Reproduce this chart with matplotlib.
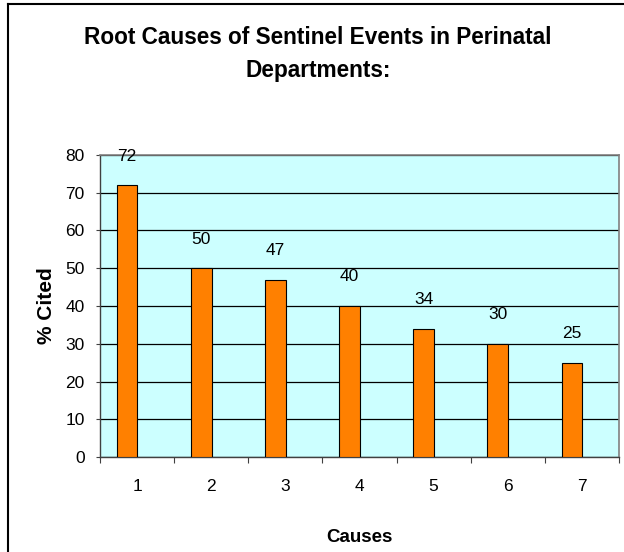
import matplotlib
matplotlib.use("Agg")
import matplotlib.pyplot as plt
from matplotlib.lines import Line2D
import numpy as np

plt.rcParams['font.family'] = ['Liberation Sans', 'DejaVu Sans']

causes = ['1', '2', '3', '4', '5', '6', '7']
values = [72, 50, 47, 40, 34, 30, 25]
title = "Root Causes of Sentinel Events in Perinatal\nDepartments:"
xlabel = "Causes"
ylabel = "% Cited"

W, H = 624, 552
fig = plt.figure(figsize=(W / 100, H / 100), dpi=100)
ax = fig.add_axes([100 / W, 1 - 457 / H, (619 - 100) / W, (457 - 155) / H])

ax.set_facecolor('#CCFFFF')
n = len(causes)
centers = np.arange(n) + 0.5
bar_x = centers - 0.135
ax.bar(bar_x, values, width=0.28, color='#FF8000', edgecolor='black',
       linewidth=0.8, zorder=3)

for bx, v in zip(bar_x, values):
    ax.annotate(str(v), xy=(bx, v), xytext=(0, 21), textcoords='offset points',
                ha='center', va='center', fontsize=12.5, color='black',
                annotation_clip=False, zorder=4)

ax.set_xlim(0, n)
ax.set_ylim(0, 80)
ax.set_yticks(np.arange(0, 81, 10))
ax.yaxis.grid(True, color='black', linewidth=0.9, zorder=1)
ax.set_axisbelow(True)

ax.set_xticks(np.arange(0, n + 1))
ax.set_xticklabels([])
ax.set_xticks(centers, minor=True)
ax.set_xticklabels(causes, minor=True)
ax.tick_params(axis='x', which='minor', length=0, pad=16, labelsize=12.5)
ax.tick_params(axis='x', which='major', direction='out', length=4, color='#404040')
ax.tick_params(axis='y', direction='out', length=3, pad=8, labelsize=12.5, color='#404040')

for s in ['top', 'right']:
    ax.spines[s].set_color('#808080')
    ax.spines[s].set_linewidth(1.2)
for s in ['left', 'bottom']:
    ax.spines[s].set_color('#404040')
    ax.spines[s].set_linewidth(1.0)

ax.set_xlabel(xlabel, fontsize=13.5, fontweight='bold', labelpad=25)
ax.set_ylabel(ylabel, fontsize=15, fontweight='bold', labelpad=7)

fig.text(318 / W, 1 - 54 / H, title, ha='center', va='center', fontsize=16.3,
         fontweight='bold', linespacing=1.58)

fig.add_artist(Line2D([8 / W, 8 / W], [0, 1 - 4 / H], transform=fig.transFigure,
                      color='black', linewidth=1.5))
fig.add_artist(Line2D([8 / W, 1], [1 - 4 / H, 1 - 4 / H], transform=fig.transFigure,
                      color='black', linewidth=1.5))

fig.savefig('out.png', dpi=100, facecolor='white')
